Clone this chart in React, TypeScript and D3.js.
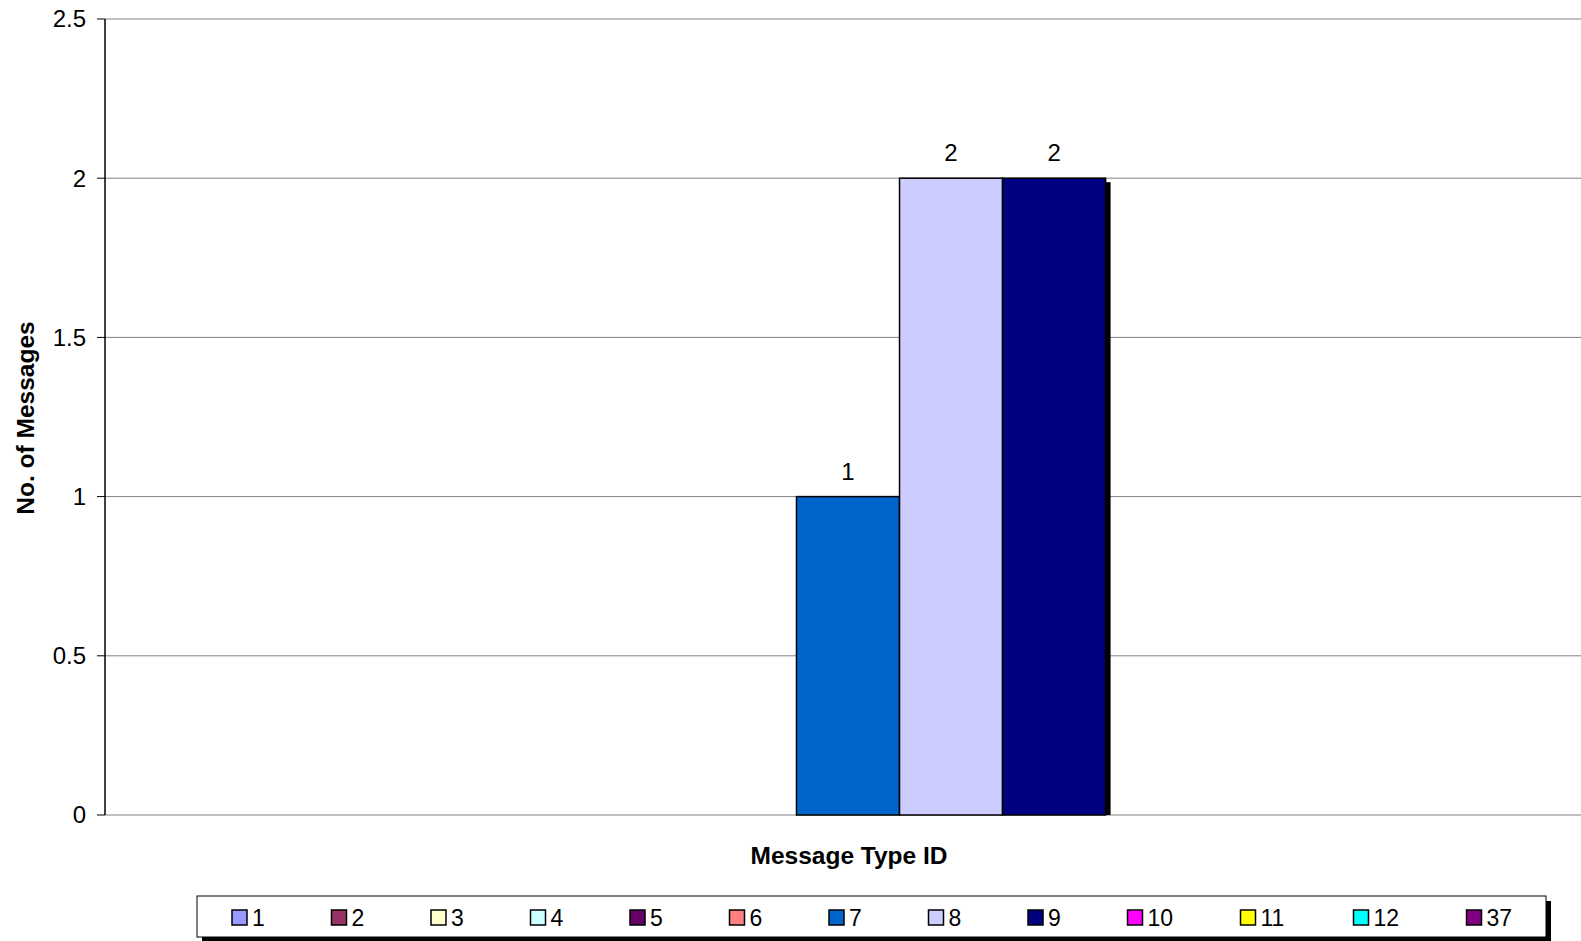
import React from "react";
import * as d3 from "d3";

const seriesLabels = ["1", "2", "3", "4", "5", "6", "7", "8", "9", "10", "11", "12", "37"];
const seriesValues: (number | null)[] = [null, null, null, null, null, null, 1, 2, 2, null, null, null, null];
const seriesColors = ["#9999FF", "#993366", "#FFFFCC", "#CCFFFF", "#660066", "#FF8080", "#0066CC", "#CCCCFF", "#000080", "#FF00FF", "#FFFF00", "#00FFFF", "#800080"];
const yTicks = [0, 0.5, 1, 1.5, 2, 2.5];
const xTitle = "Message Type ID";
const yTitle = "No. of Messages";

const W = 1581;
const H = 941;
const FONT = "Arial, 'Liberation Sans', Helvetica, sans-serif";

export default function App() {
  const axisX = 105;
  const plotRight = 1581;
  const y = d3.scaleLinear().domain([0, 2.5]).range([815, 19]);
  const x = d3.scaleBand<string>().domain(seriesLabels).range([101, 1595]).paddingInner(0).paddingOuter(0.75);
  const bw = x.bandwidth();
  const shadow = 5;

  const legendItems: { label: string; color: string; x: number }[] = [];
  let lx = 232;
  seriesLabels.forEach((l, i) => {
    legendItems.push({ label: l, color: seriesColors[i], x: lx });
    lx += 86 + 13.5 * l.length;
  });

  return (
    <svg width={W} height={H} style={{ position: "absolute", left: 0, top: 0, display: "block", background: "#fff" }} fontFamily={FONT}>
      <defs>
        <clipPath id="plotclip">
          <rect x={axisX} y={0} width={W - axisX} height={y(0)} />
        </clipPath>
      </defs>
      {yTicks.map((t) => (
        <line key={"g" + t} x1={axisX} x2={plotRight} y1={y(t)} y2={y(t)} stroke="#808080" strokeWidth={1} />
      ))}
      {yTicks.map((t) => (
        <g key={"t" + t}>
          <line x1={axisX - 8} x2={axisX} y1={y(t)} y2={y(t)} stroke="#000" strokeWidth={1} />
          <text x={86} y={y(t)} dy="0.35em" textAnchor="end" fontSize={24} fill="#000">
            {d3.format("~g")(t)}
          </text>
        </g>
      ))}
      <g clipPath="url(#plotclip)">
        {seriesLabels.map((l, i) =>
          seriesValues[i] == null ? null : (
            <rect key={"s" + l} x={(x(l) as number) + shadow} y={y(seriesValues[i] as number) + 4} width={bw} height={y(0) - y(seriesValues[i] as number)} fill="#000" />
          )
        )}
      </g>
      {seriesLabels.map((l, i) =>
        seriesValues[i] == null ? null : (
          <rect key={"b" + l} x={x(l) as number} y={y(seriesValues[i] as number)} width={bw} height={y(0) - y(seriesValues[i] as number)} fill={seriesColors[i]} stroke="#000" strokeWidth={1.5} />
        )
      )}
      {seriesLabels.map((l, i) =>
        seriesValues[i] == null ? null : (
          <text key={"d" + l} x={(x(l) as number) + bw / 2} y={y(seriesValues[i] as number) - 17} textAnchor="middle" fontSize={24} fill="#000">
            {seriesValues[i]}
          </text>
        )
      )}
      <line x1={axisX} x2={axisX} y1={y(2.5)} y2={y(0)} stroke="#000" strokeWidth={1.5} />
      <text x={849} y={864} textAnchor="middle" fontSize={24.5} fontWeight="bold" fill="#000">
        {xTitle}
      </text>
      <text transform={`translate(34,418) rotate(-90)`} textAnchor="middle" fontSize={24.5} fontWeight="bold" fill="#000">
        {yTitle}
      </text>
      <rect x={202} y={901} width={1349} height={41} fill="#000" />
      <rect x={197} y={896} width={1349} height={41} fill="#fff" stroke="#000" strokeWidth={1} />
      {legendItems.map((it) => (
        <g key={"l" + it.label}>
          <rect x={it.x} y={910} width={15} height={15} fill={it.color} stroke="#000" strokeWidth={1.5} />
          <text x={it.x + 20} y={926} fontSize={23} fill="#000">
            {it.label}
          </text>
        </g>
      ))}
    </svg>
  );
}
